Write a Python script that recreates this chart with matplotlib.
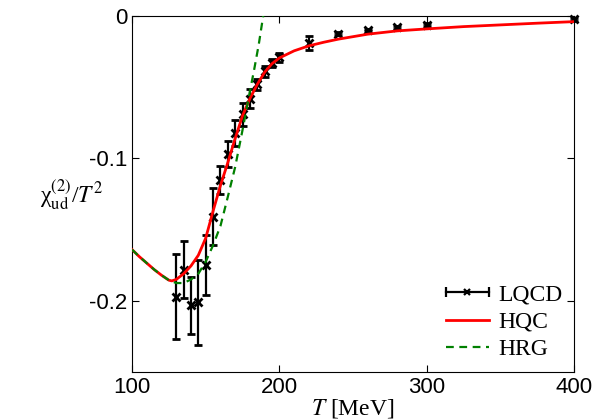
# chi_ud^(2)/T^2 vs T : LQCD, HQC, HRG
import matplotlib
matplotlib.use('Agg')
import matplotlib.pyplot as plt
from matplotlib.legend_handler import HandlerBase
from matplotlib.lines import Line2D
import numpy as np

plt.rcParams['mathtext.fontset'] = 'stix'

# lattice data
T_lqcd = [130, 135, 140, 145, 150, 155, 160, 165, 170, 175, 180, 185, 190, 195, 200,
          220, 240, 260, 280, 300, 400]
chi_lqcd = [-0.197, -0.178, -0.203, -0.201, -0.175, -0.141, -0.115, -0.097, -0.082,
            -0.069, -0.058, -0.048, -0.039, -0.033, -0.029,
            -0.019, -0.0125, -0.0099, -0.008, -0.0061, -0.0024]
err_lqcd = [0.030, 0.020, 0.020, 0.030, 0.021, 0.020, 0.010, 0.009, 0.009,
            0.008, 0.0065, 0.004, 0.004, 0.003, 0.003,
            0.005, 0.001, 0.001, 0.001, 0.001, 0.001]

# HQC curve
T_hqc = [100, 105, 110, 115, 120, 125, 127, 130, 135, 140, 145, 150, 155, 160, 165,
         170, 175, 180, 185, 190, 195, 200, 210, 220, 230, 240, 260, 280, 300,
         325, 350, 375, 400]
chi_hqc = [-0.164, -0.169, -0.1735, -0.178, -0.182, -0.1855, -0.186, -0.185, -0.181,
           -0.1755, -0.168, -0.156, -0.137, -0.119, -0.103, -0.086, -0.070, -0.058,
           -0.048, -0.0395, -0.0335, -0.0295, -0.0245, -0.021, -0.0185, -0.0163,
           -0.0128, -0.0105, -0.0091, -0.0075, -0.0063, -0.0051, -0.0040]

# HRG curve
T_hrg = [100, 105, 110, 115, 120, 125, 130, 135, 140, 145, 150, 155, 160, 165, 170,
         175, 180, 183, 186, 189]
chi_hrg = [-0.164, -0.169, -0.1735, -0.178, -0.182, -0.1855, -0.1875, -0.1875, -0.185,
           -0.181, -0.1725, -0.161, -0.1475, -0.127, -0.106, -0.080, -0.053, -0.037,
           -0.020, 0.0]


# legend key: horizontal bar with end caps and an x in the middle
class HandlerHBar(HandlerBase):
    def create_artists(self, legend, orig, xd, yd, w, h, fontsize, trans):
        y = h / 2 - yd
        x0, x1 = -xd, -xd + w
        bar = Line2D([x0, x1], [y, y], color='black', lw=1.6, transform=trans)
        caps = Line2D([x0, x1], [y, y], ls='none', marker='|', ms=7, mew=1.6,
                      color='black', transform=trans)
        mid = Line2D([(x0 + x1) / 2], [y], ls='none', marker='x', ms=5, mew=1.6,
                     color='black', transform=trans)
        return [bar, caps, mid]


fig = plt.figure(figsize=(6, 4.19), dpi=100)
ax = fig.add_axes([0.22, 0.112, 0.737, 0.85])

eb = ax.errorbar(T_lqcd, chi_lqcd, yerr=err_lqcd, fmt='x', color='black', ms=6, mew=2,
                 elinewidth=1.6, capsize=3, capthick=1.6, clip_on=False, zorder=2)
l1, = ax.plot(T_hqc, chi_hqc, color='red', lw=2, zorder=3)
l2, = ax.plot(T_hrg, chi_hrg, color='green', lw=1.6, ls=(0, (3.5, 2.5)), zorder=4)

ax.set_xlim(100, 400)
ax.set_ylim(-0.25, 0)
ax.set_xticks([100, 200, 300, 400])
ax.set_yticks([0, -0.1, -0.2])
ax.set_yticklabels(['0', '-0.1', '-0.2'])
ax.tick_params(direction='in', length=5, top=True, right=True, labelsize=16)
for lab in ax.get_xticklabels() + ax.get_yticklabels():
    lab.set_family('Liberation Sans')

ax.set_xlabel(r'$T$ [MeV]', fontsize=17, family='Liberation Serif', labelpad=-1)
fig.text(0.12, 0.535, r'χ$_{\rm ud}^{(2)}$/$T^2$', fontsize=17, ha='center', va='center',
         family='Liberation Serif')

dummy = Line2D([], [])
ax.legend([dummy, l1, l2], ['LQCD', 'HQC', 'HRG'], handler_map={dummy: HandlerHBar()},
          loc='lower right', frameon=False, prop={'family': 'Liberation Serif', 'size': 17},
          handlelength=1.8, handletextpad=0.4, labelspacing=0.25, borderaxespad=0.1)

fig.savefig('out.png', dpi=100)
